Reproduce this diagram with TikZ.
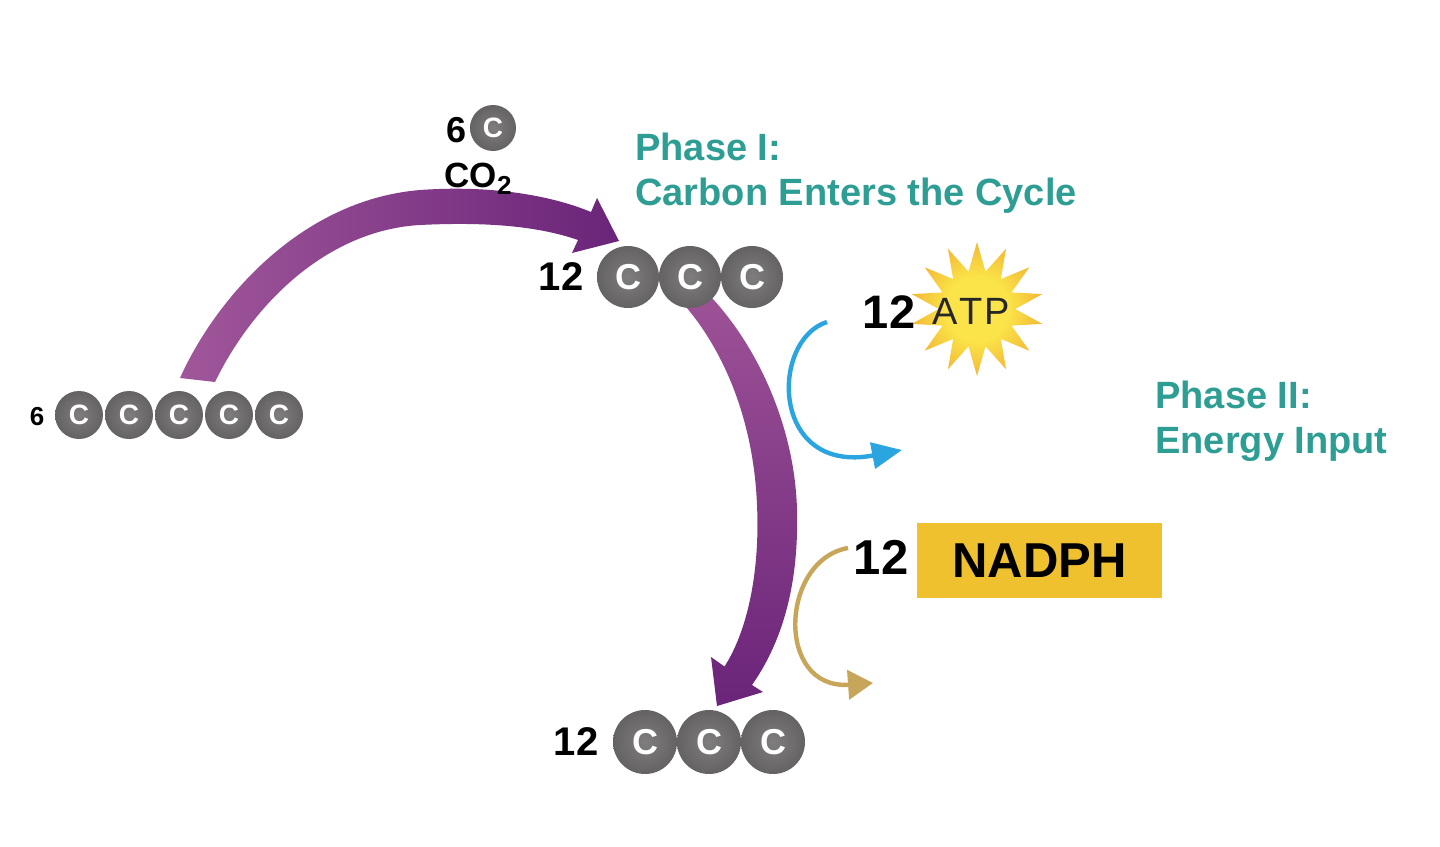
\documentclass[tikz,border=0pt]{standalone}
\usepackage{fontspec}
\setmainfont{Liberation Sans}
\usetikzlibrary{shapes.geometric,arrows.meta}
\definecolor{phaseteal}{HTML}{2E9E94}
\definecolor{ballrim}{HTML}{4A4949}
\definecolor{ballmid}{HTML}{636161}
\definecolor{ballcore}{HTML}{7F7D7D}
\definecolor{cyclelight}{HTML}{A0579A}
\definecolor{cyclemid}{HTML}{9D5296}
\definecolor{cycledark}{HTML}{6A2479}
\definecolor{atpblue}{HTML}{2AA5DF}
\definecolor{nadphgold}{HTML}{C7A659}
\definecolor{nadphbox}{HTML}{EFC12F}
\definecolor{staryellow}{HTML}{FBE449}
\definecolor{starorange}{HTML}{EC9B2A}
\pgfdeclareradialshading{carbonball}{\pgfpoint{0bp}{0bp}}{color(0bp)=(ballcore); color(26bp)=(ballmid); color(38bp)=(ballrim); color(50bp)=(ballrim)}
\pgfdeclareradialshading{starglow}{\pgfpoint{0bp}{0bp}}{color(0bp)=(staryellow); color(12bp)=(staryellow); color(34bp)=(starorange); color(50bp)=(starorange)}
\tikzset{
  cball/.style={circle,shading=carbonball,text=white,inner sep=0pt,minimum size=24pt,
    font=\bfseries\fontsize{14}{14}\selectfont},
  cbig/.style={cball,minimum size=31pt,font=\bfseries\fontsize{18}{18}\selectfont},
  count/.style={inner sep=0pt,font=\bfseries\fontsize{20}{20}\selectfont},
  bigcount/.style={inner sep=0pt,font=\bfseries\fontsize{24.5}{24.5}\selectfont},
  phase/.style={inner sep=0pt,anchor=north west,align=left,text=phaseteal,
    font=\bfseries\fontsize{19}{22.5}\selectfont},
  energyarrow/.style={line width=2.2pt,-{Triangle[width=13pt,length=15pt]}}
}
\begin{document}
\begin{tikzpicture}[x=0.5pt,y=-0.5pt]
  \useasboundingbox (0,0) rectangle (1440,846);
  % carbon enters the cycle
  \shade[left color=cyclelight,right color=cycledark]
    (180,378) .. controls (215,300) and (300,200) .. (420,190)
    .. controls (490,185) and (550,195) .. (591,212) -- (597,198) -- (619,241)
    -- (572,253) -- (578,240) .. controls (535,225) and (480,222) .. (420,225)
    .. controls (330,230) and (255,300) .. (215,382) -- cycle;
  \shade[top color=cyclemid,bottom color=cycledark]
    (687,308) -- (712,298) .. controls (760,350) and (795,430) .. (797,510)
    .. controls (799,590) and (780,645) .. (752,685) -- (763,692) -- (717,706)
    -- (711,657) -- (724.5,666.5) .. controls (748,630) and (760,570) .. (757,505)
    .. controls (754,430) and (730,360) .. (687,308) -- cycle;
  % molecules
  \node[count,font=\bfseries\fontsize{13}{13}\selectfont] (n6) at (37,417) {6};
  \foreach \i in {1,...,5}
    \node[cball] (r\i) at ({29+50*\i},415) {C};
  \node[count,font=\bfseries\fontsize{18}{18}\selectfont] (co2n) at (457,130) {6};
  \node[cball,minimum size=23pt] (co2c) at (493,128) {C};
  \node[anchor=base,inner sep=0pt,font=\bfseries\fontsize{17.5}{17.5}\selectfont] (co2)
    at (478,187) {CO\raisebox{-0.22em}{\fontsize{13}{13}\selectfont 2}};
  \node[count] (g0) at (561,277) {12};
  \foreach \i in {1,2,3}
    \node[cbig] (g\i) at ({566+62*\i},277) {C};
  \node[count] (b0) at (576,742) {12};
  \foreach \i in {1,2,3}
    \node[cbig,minimum size=32pt] (b\i) at ({581+64*\i},742) {C};
  % energy input
  \node[star,star points=14,star point ratio=1.75,minimum size=67pt,inner sep=0pt,
    shading=starglow] (atp) at (977,309) {};
  \node[inner sep=0pt,text=black!85,font=\fontsize{19}{19}\selectfont] (atpt)
    at (971,311) {A\kern1pt T\kern1pt P};
  \node[bigcount,font=\bfseries\fontsize{23.5}{23.5}\selectfont] (atpn) at (889,312) {12};
  \node[fill=nadphbox,minimum width=122.5pt,minimum height=37.5pt,inner sep=0pt,
    font=\bfseries\fontsize{24.5}{24.5}\selectfont] (nadph) at (1039.5,560.5) {NADPH};
  \node[bigcount] (nadphn) at (881,557) {12};
  \coordinate (atpin) at (827,322);
  \coordinate (atpout) at (902,450);
  \draw[energyarrow,atpblue] (atpin) .. controls +(-57,18) and +(-132,25) .. (atpout);
  \coordinate (nadphin) at (848,548);
  \coordinate (nadphout) at (873,683);
  \draw[energyarrow,nadphgold,-{Triangle[width=14.5pt,length=12.5pt]}]
    (nadphin) .. controls +(-68,12) and +(-98,7) .. (nadphout);
  % phase labels
  \node[phase] (ph1) at (635,133) {Phase I:\\Carbon Enters the Cycle};
  \node[phase] (ph2) at (1155,381) {Phase II:\\Energy Input};
\end{tikzpicture}
\end{document}
